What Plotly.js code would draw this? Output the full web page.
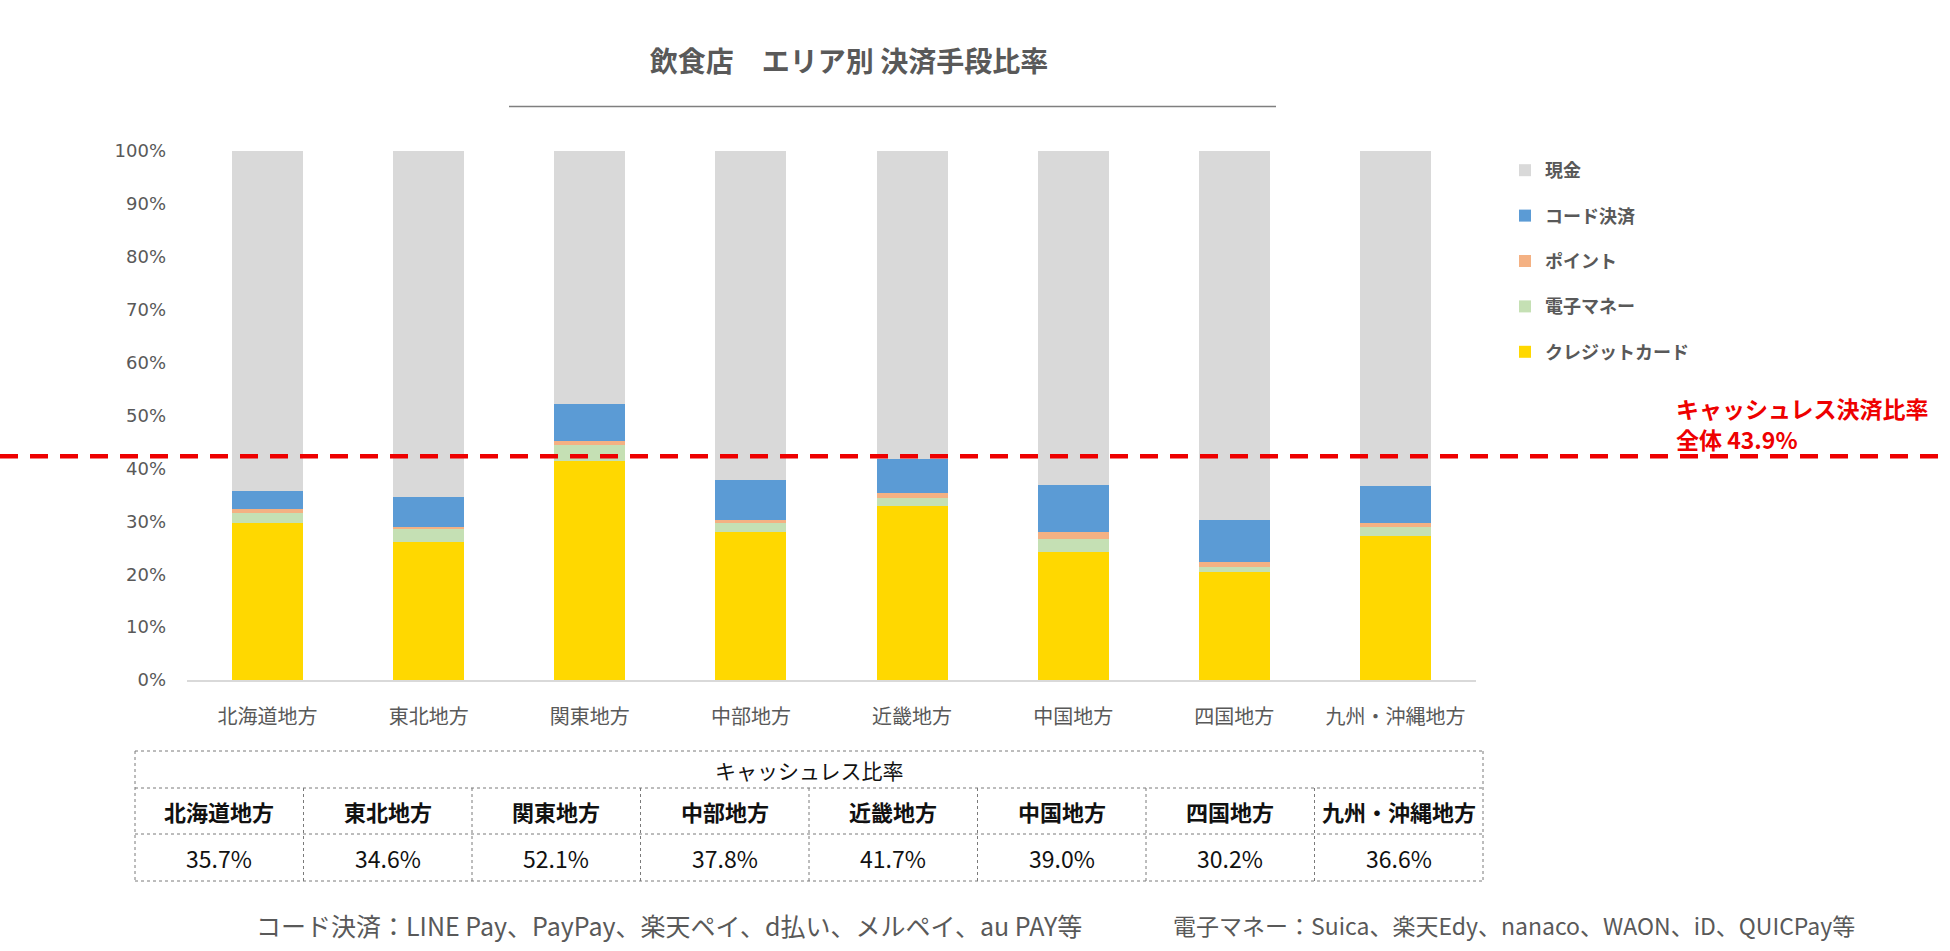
<!DOCTYPE html>
<html>
<head>
<meta charset="utf-8">
<script src="https://cdn.plot.ly/plotly-3.0.1.min.js"></script>
<style>
html,body{margin:0;padding:0;background:#fff;}
#chart{width:1950px;height:951px;}
</style>
</head>
<body>
<div id="chart"></div>
<script>
// ---- data ----
const regions = ['北海道地方','東北地方','関東地方','中部地方','近畿地方','中国地方','四国地方','九州・沖縄地方'];
const credit  = [29.6, 26.0, 41.4, 28.0, 32.9, 24.2, 20.5, 27.2];   // クレジットカード
const emoney  = [2.0, 2.6, 3.0, 1.6, 1.6, 2.4, 0.8, 1.8];           // 電子マネー
const points  = [0.8, 0.3, 0.8, 0.6, 0.8, 1.3, 1.1, 0.6];           // ポイント
const code    = [3.3, 5.7, 6.9, 7.6, 6.4, 8.9, 7.8, 7.0];           // コード決済
const cash    = [64.3, 65.4, 47.9, 62.2, 58.3, 63.2, 69.8, 63.4];   // 現金
const tableRates = ['35.7%','34.6%','52.1%','37.8%','41.7%','39.0%','30.2%','36.6%'];
const overallLabelLines = ['キャッシュレス決済比率', '全体 43.9%'];
const overallLineLevel = 42.3; // level at which the dashed line is drawn in the picture
const yTicks = [0,10,20,30,40,50,60,70,80,90,100];
const yTickText = ['0%','10%','20%','30%','40%','50%','60%','70%','80%','90%','100%'];
const tableTitle = 'キャッシュレス比率';
const note1 = 'コード決済：LINE Pay、PayPay、楽天ペイ、d払い、メルペイ、au PAY等';
const note2 = '電子マネー：Suica、楽天Edy、nanaco、WAON、iD、QUICPay等';
const chartTitle = '飲食店　エリア別 決済手段比率';

// ---- geometry helpers (page pixels -> paper) ----
const W = 1950, H = 951;
const L = 187, R = 1476, T = 151, B = 680;
const px = x => (x - L) / (R - L);
const py = y => (B - y) / (B - T);

const JP = '"Noto Sans CJK JP", "Noto Sans", sans-serif';
const GRAY = '#595959';

const series = [
  {name:'クレジットカード', y: credit, color:'#ffd800'},
  {name:'電子マネー', y: emoney, color:'#c5e0b4'},
  {name:'ポイント', y: points, color:'#f4b183'},
  {name:'コード決済', y: code, color:'#5b9bd5'},
  {name:'現金', y: cash, color:'#d9d9d9'}
];

const traces = series.map((s, i) => ({
  type:'bar', x: regions, y: s.y, name: s.name,
  legendgroup: 'g' + i, legendrank: 100 - i,
  marker:{color: s.color, line:{width:0}},
  hoverinfo:'skip'
}));

const shapes = [];
const annotations = [];

// title underline
shapes.push({type:'line', xref:'paper', yref:'paper', x0:px(509), x1:px(1276), y0:py(106.5), y1:py(106.5),
  line:{color:'#7f7f7f', width:1.3}});

// overall dashed line
shapes.push({type:'line', xref:'paper', yref:'y', x0:px(0), x1:px(W), y0:overallLineLevel, y1:overallLineLevel,
  line:{color:'#ee0000', width:4.5, dash:'18px,12px'}});

overallLabelLines.forEach((t, i) => {
  annotations.push({xref:'paper', yref:'paper', x:px(1674), y:py(408 + i * 31), xanchor:'left', yanchor:'middle',
    align:'left', text: t, showarrow:false,
    font:{family:JP, size:23, color:'#ee0000', weight:'bold'}});
});

// table
const tL = 135, tR = 1483, rows = [751, 788, 834, 881];
const colW = (tR - tL) / regions.length;
const dot = {color:'#7a7a7a', width:1, dash:'dot'};
rows.forEach(r => shapes.push({type:'line', xref:'paper', yref:'paper', x0:px(tL), x1:px(tR), y0:py(r), y1:py(r), line:dot}));
for (let i = 0; i <= regions.length; i++) {
  const x = tL + i * colW;
  const top = (i === 0 || i === regions.length) ? rows[0] : rows[1];
  shapes.push({type:'line', xref:'paper', yref:'paper', x0:px(x), x1:px(x), y0:py(top), y1:py(rows[3]), line:dot});
}
annotations.push({xref:'paper', yref:'paper', x:px((tL+tR)/2), y:py((rows[0]+rows[1])/2), text:tableTitle,
  showarrow:false, xanchor:'center', yanchor:'middle', font:{family:JP, size:21, color:'#111'}});
regions.forEach((r, i) => {
  const cx = tL + (i + 0.5) * colW;
  annotations.push({xref:'paper', yref:'paper', x:px(cx), y:py((rows[1]+rows[2])/2), text:r, showarrow:false,
    xanchor:'center', yanchor:'middle', font:{family:JP, size:22, color:'#111', weight:'bold'}});
  annotations.push({xref:'paper', yref:'paper', x:px(cx), y:py((rows[2]+rows[3])/2), text:tableRates[i], showarrow:false,
    xanchor:'center', yanchor:'middle', font:{family:JP, size:23, color:'#111'}});
});

// footnotes
annotations.push({xref:'paper', yref:'paper', x:px(254), y:py(925), xanchor:'left', yanchor:'middle', text:note1,
  showarrow:false, font:{family:JP, size:25, color:GRAY}});
annotations.push({xref:'paper', yref:'paper', x:px(1171), y:py(925), xanchor:'left', yanchor:'middle', text:note2,
  showarrow:false, font:{family:JP, size:23, color:GRAY}});

const layout = {
  width: W, height: H,
  margin:{l:L, r:W-R, t:T, b:H-B, pad:0},
  paper_bgcolor:'#fff', plot_bgcolor:'#fff',
  barmode:'stack', bargap:0.56,
  title:{text: chartTitle, xref:'container', x:849/W, xanchor:'center', yref:'container', y:1-62/H, yanchor:'middle',
    font:{family:JP, size:28, color:GRAY, weight:'bold'}},
  xaxis:{type:'category', showline:true, linecolor:'#d9d9d9', linewidth:1.5, showgrid:false, zeroline:false,
    ticks:'', ticklabelstandoff:18, tickfont:{family:JP, size:20, color:GRAY}},
  yaxis:{range:[0,100], tickmode:'array', tickvals:yTicks, ticktext:yTickText, showgrid:false, zeroline:false, showline:false,
    ticks:'', ticklabelstandoff:20, tickfont:{family:'"DejaVu Sans", sans-serif', size:18, color:GRAY}},
  legend:{traceorder:'grouped', tracegroupgap:19, xref:'container', yref:'container',
    x:1505/W, y:1-152/H, xanchor:'left', yanchor:'top', bgcolor:'rgba(0,0,0,0)',
    font:{family:JP, size:18, color:GRAY, weight:'bold'}},
  shapes: shapes,
  annotations: annotations
};

Plotly.newPlot('chart', traces, layout, {staticPlot:true, displayModeBar:false});
</script>
</body>
</html>
